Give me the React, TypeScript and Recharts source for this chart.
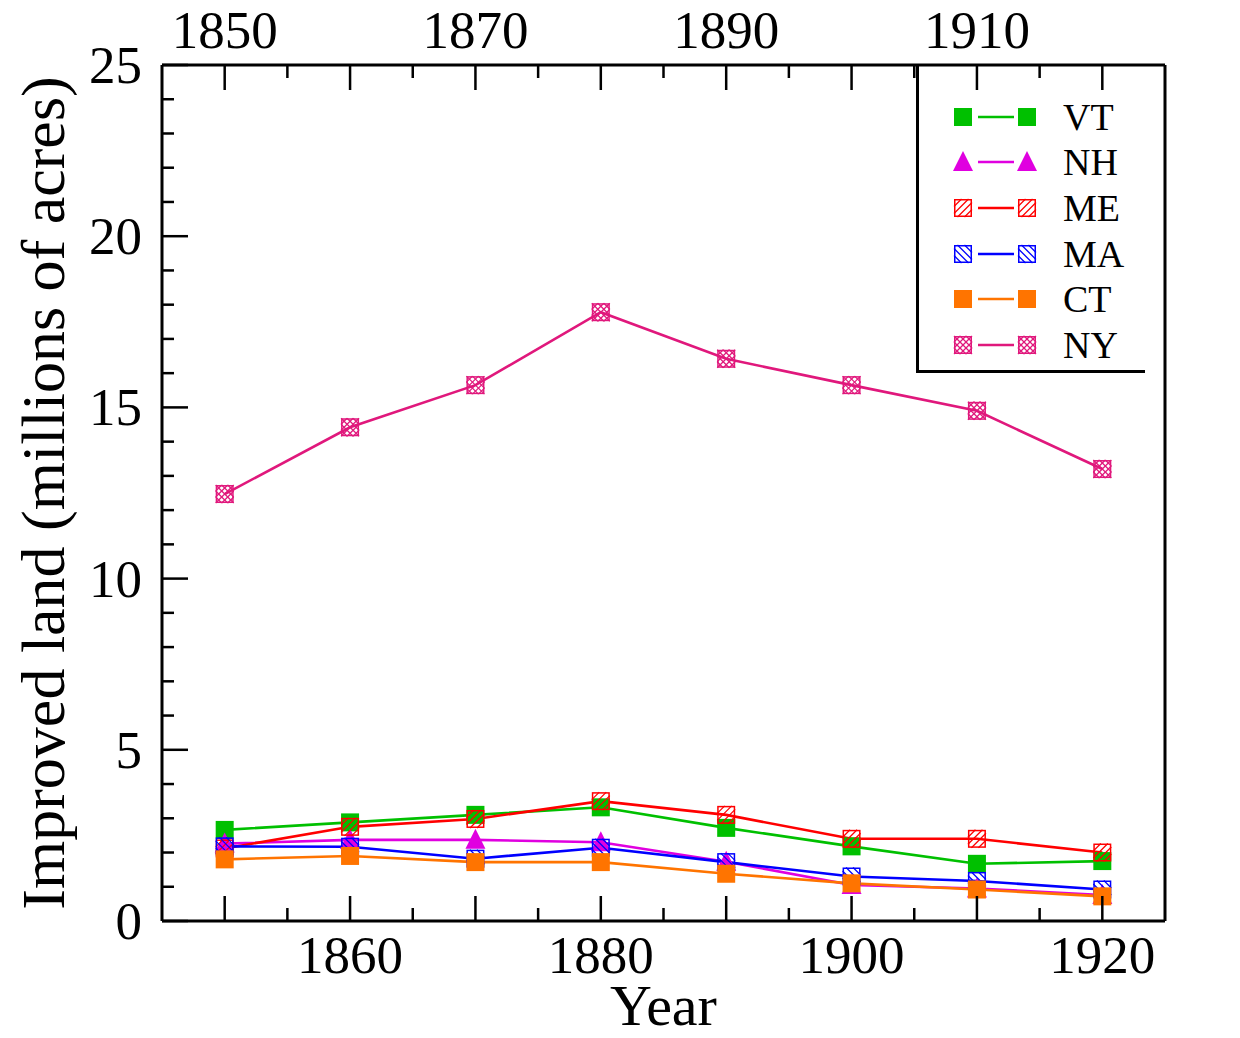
import React from 'react';
import { LineChart, Line, XAxis, YAxis, Legend, Label } from 'recharts';

const years = [1850, 1860, 1870, 1880, 1890, 1900, 1910, 1920];
const vt = [2.66, 2.88, 3.1, 3.32, 2.72, 2.18, 1.67, 1.75];
const nh = [2.26, 2.37, 2.37, 2.3, 1.73, 1.05, 0.95, 0.76];
const me = [2.12, 2.75, 2.98, 3.5, 3.1, 2.4, 2.4, 2.0];
const ma = [2.18, 2.17, 1.82, 2.14, 1.72, 1.3, 1.17, 0.92];
const ct = [1.8, 1.9, 1.72, 1.72, 1.38, 1.1, 0.92, 0.72];
const ny = [12.47, 14.42, 15.65, 17.78, 16.42, 15.65, 14.9, 13.2];

const xTicks = [1850, 1855, 1860, 1865, 1870, 1875, 1880, 1885, 1890, 1895, 1900, 1905, 1910, 1915, 1920];
const yTicks = [0, 1, 2, 3, 4, 5, 6, 7, 8, 9, 10, 11, 12, 13, 14, 15, 16, 17, 18, 19, 20, 21, 22, 23, 24, 25];

const data = years.map((year, i) => ({
  year,
  VT: vt[i],
  NH: nh[i],
  ME: me[i],
  MA: ma[i],
  CT: ct[i],
  NY: ny[i],
}));

type Kind = 'square' | 'triangle' | 'slash' | 'backslash' | 'cross';

const series: { key: string; color: string; kind: Kind }[] = [
  { key: 'VT', color: '#00c000', kind: 'square' },
  { key: 'NH', color: '#e000e0', kind: 'triangle' },
  { key: 'ME', color: '#ff0000', kind: 'slash' },
  { key: 'MA', color: '#0000ff', kind: 'backslash' },
  { key: 'CT', color: '#ff7400', kind: 'square' },
  { key: 'NY', color: '#e0187c', kind: 'cross' },
];

const FONT = '"Liberation Serif", "Times New Roman", serif';

// hatch lines clipped to a square of half-size s
const hatch = (cx: number, cy: number, s: number, dir: 1 | -1, offsets: number[], color: string, k: string) =>
  offsets.map((c, i) => {
    const x1 = Math.max(-s, c - s);
    const x2 = Math.min(s, c + s);
    if (x2 <= x1) return null;
    const y1 = dir === 1 ? c - x1 : x1 - c;
    const y2 = dir === 1 ? c - x2 : x2 - c;
    return <line key={`${k}-${i}`} x1={cx + x1} y1={cy + y1} x2={cx + x2} y2={cy + y2} stroke={color} strokeWidth={1.3} />;
  });

const Marker = ({ cx, cy, kind, color, size = 9 }: { cx: number; cy: number; kind: Kind; color: string; size?: number }) => {
  const s = size;
  if (kind === 'square') return <rect x={cx - s} y={cy - s} width={2 * s} height={2 * s} fill={color} />;
  if (kind === 'triangle')
    return <polygon points={`${cx},${cy - s - 2} ${cx - s - 1},${cy + s} ${cx + s + 1},${cy + s}`} fill={color} />;
  const outline = <rect x={cx - s + 0.75} y={cy - s + 0.75} width={2 * s - 1.5} height={2 * s - 1.5} fill="none" stroke={color} strokeWidth={1.5} />;
  if (kind === 'slash')
    return (
      <g>
        {hatch(cx, cy, s, 1, [-10.5, -3.5, 3.5, 10.5], color, 'a')}
        {outline}
      </g>
    );
  if (kind === 'backslash')
    return (
      <g>
        {hatch(cx, cy, s, -1, [-10.5, -3.5, 3.5, 10.5], color, 'a')}
        {outline}
      </g>
    );
  return (
    <g>
      {hatch(cx, cy, s, 1, [-12, -6, 0, 6, 12], color, 'a')}
      {hatch(cx, cy, s, -1, [-12, -6, 0, 6, 12], color, 'b')}
      {outline}
    </g>
  );
};

const makeDot = (kind: Kind, color: string, name: string) => (props: any) => {
  const { cx, cy, index } = props;
  return (
    <g key={`${name}-${index}`}>
      <Marker cx={cx} cy={cy} kind={kind} color={color} />
    </g>
  );
};

const BottomTick = (props: any) => {
  const { x, y, payload } = props;
  const v = payload.value;
  const len = v % 10 === 0 ? 25 : 13;
  return (
    <g>
      <line x1={x} x2={x} y1={y} y2={y - len} stroke="#000" strokeWidth={2.5} />
      {(v - 1860) % 20 === 0 && (
        <text x={x} y={y + 52} textAnchor="middle" fontFamily={FONT} fontSize={53} fill="#000">
          {v}
        </text>
      )}
    </g>
  );
};

const TopTick = (props: any) => {
  const { x, y, payload } = props;
  const v = payload.value;
  const len = v % 10 === 0 ? 25 : 13;
  return (
    <g>
      <line x1={x} x2={x} y1={y} y2={y + len} stroke="#000" strokeWidth={2.5} />
      {(v - 1850) % 20 === 0 && (
        <text x={x} y={y - 17} textAnchor="middle" fontFamily={FONT} fontSize={53} fill="#000">
          {v}
        </text>
      )}
    </g>
  );
};

const LeftTick = (props: any) => {
  const { x, y, payload } = props;
  const v = payload.value;
  const len = v % 5 === 0 ? 26 : 12;
  return (
    <g>
      <line x1={x} x2={x + len} y1={y} y2={y} stroke="#000" strokeWidth={2.5} />
      {v % 5 === 0 && (
        <text x={x - 20} y={y + 18} textAnchor="end" fontFamily={FONT} fontSize={53} fill="#000">
          {v}
        </text>
      )}
    </g>
  );
};

const RightTick = (props: any) => {
  const { x, y, payload } = props;
  const v = payload.value;
  const len = v % 5 === 0 ? 25 : 10;
  return (
    <g>
      <line x1={x} x2={x - len} y1={y} y2={y} stroke="#000" strokeWidth={2.5} />
      {v % 5 === 0 && (
        <text x={x + 13} y={y + 18} textAnchor="start" fontFamily={FONT} fontSize={53} fill="#000">
          {v}
        </text>
      )}
    </g>
  );
};

const LegendBox = () => {
  const rowY = [52, 97, 143, 189, 234, 280];
  return (
    <svg width={229} height={308} style={{ display: 'block' }}>
      <line x1={1.5} y1={0} x2={1.5} y2={308} stroke="#000" strokeWidth={3} />
      <line x1={0} y1={306.5} x2={229} y2={306.5} stroke="#000" strokeWidth={3} />
      {series.map((s, i) => (
        <g key={s.key}>
          <line x1={62} x2={98} y1={rowY[i]} y2={rowY[i]} stroke={s.color} strokeWidth={2.6} />
          <Marker cx={47} cy={rowY[i]} kind={s.kind} color={s.color} />
          <Marker cx={111} cy={rowY[i]} kind={s.kind} color={s.color} />
          <text x={147} y={rowY[i] + 13} fontFamily={FONT} fontSize={38} fill="#000">
            {s.key}
          </text>
        </g>
      ))}
    </svg>
  );
};

const axisLine = { stroke: '#000', strokeWidth: 3 };

export default function App() {
  return (
    <div style={{ width: 1240, height: 1038, background: '#fff', margin: '-8px 0 0 -8px' }}>
      <LineChart width={1240} height={1038} data={data} margin={{ top: 0, right: 0, bottom: 0, left: 0 }}>
        <XAxis
          xAxisId="bottom"
          dataKey="year"
          type="number"
          domain={[1845, 1925]}
          ticks={xTicks}
          interval={0}
          orientation="bottom"
          height={117}
          tickSize={0}
          tickMargin={0}
          tickLine={false}
          axisLine={axisLine}
          tick={<BottomTick />}
        >
          <Label
            content={(p: any) => {
              const vb = p.viewBox;
              return (
                <text x={vb.x + vb.width / 2} y={vb.y + 104} textAnchor="middle" fontFamily={FONT} fontSize={58} fill="#000">
                  Year
                </text>
              );
            }}
          />
        </XAxis>
        <XAxis
          xAxisId="top"
          dataKey="year"
          type="number"
          domain={[1845, 1925]}
          ticks={xTicks}
          interval={0}
          orientation="top"
          height={65}
          tickSize={0}
          tickMargin={0}
          tickLine={false}
          axisLine={axisLine}
          tick={<TopTick />}
        />
        <YAxis
          yAxisId="left"
          type="number"
          domain={[0, 25]}
          ticks={yTicks}
          interval={0}
          orientation="left"
          width={162}
          tickSize={0}
          tickMargin={0}
          tickLine={false}
          axisLine={axisLine}
          tick={<LeftTick />}
        >
          <Label
            content={(p: any) => {
              const vb = p.viewBox;
              const cx = vb.x + 64;
              const cy = vb.y + vb.height / 2;
              return (
                <text x={cx} y={cy} transform={`rotate(-90 ${cx} ${cy})`} textAnchor="middle" fontFamily={FONT} fontSize={62} fill="#000">
                  Improved land (millions of acres)
                </text>
              );
            }}
          />
        </YAxis>
        <YAxis
          yAxisId="right"
          type="number"
          domain={[0, 25]}
          ticks={yTicks}
          interval={0}
          orientation="right"
          width={75}
          tickSize={0}
          tickMargin={0}
          tickLine={false}
          axisLine={axisLine}
          tick={<RightTick />}
        />
        <Legend
          layout="horizontal"
          verticalAlign="middle"
          align="center"
          wrapperStyle={{ position: 'absolute', left: 916, top: 65, width: 229, height: 308 }}
          content={() => <LegendBox />}
        />
        {series.map((s) => (
          <Line
            key={s.key}
            xAxisId="bottom"
            yAxisId="left"
            dataKey={s.key}
            stroke={s.color}
            strokeWidth={2.6}
            type="linear"
            dot={makeDot(s.kind, s.color, s.key)}
            activeDot={false}
            isAnimationActive={false}
          />
        ))}
      </LineChart>
    </div>
  );
}
